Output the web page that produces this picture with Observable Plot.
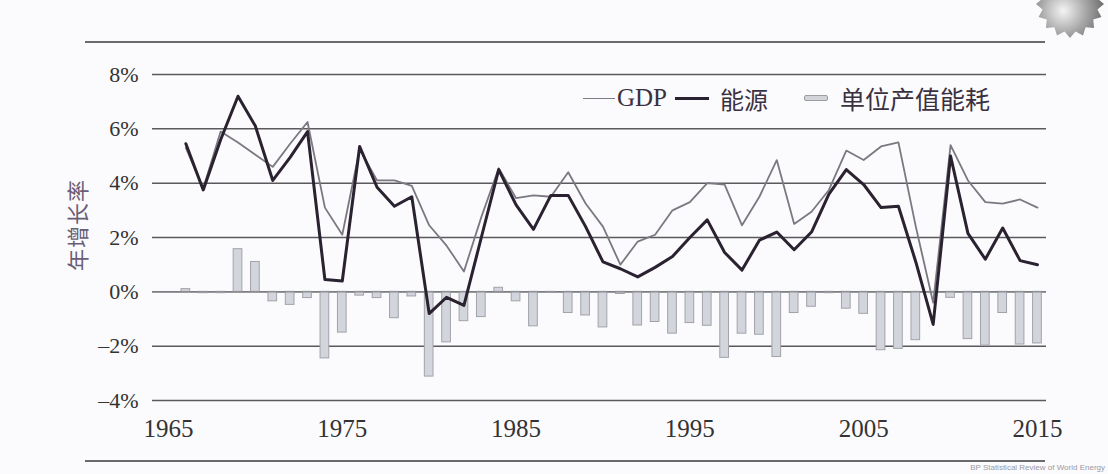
<!DOCTYPE html>
<html>
<head>
<meta charset="utf-8">
<script src="https://cdn.jsdelivr.net/npm/d3@7"></script>
<script src="https://cdn.jsdelivr.net/npm/@observablehq/plot@0.6"></script>
<style>
  html, body { margin: 0; padding: 0; background: #fbfbfd; }
  #wrap { position: relative; width: 1108px; height: 474px; overflow: hidden; background: #fbfbfd; }
  #chart { position: absolute; left: 0; top: 0; }
  .frame { position: absolute; left: 85px; width: 960px; height: 0; border-top: 2px solid #6a6a6e; }
  #legend { position: absolute; top: 80px; left: 583px; height: 36px; display: flex; align-items: center; color: #3a3040; }
  #legend .sw { display: inline-block; }
  #ytitle { position: absolute; left: 30px; top: 209px; transform: rotate(-90deg); transform-origin: center; font-family: "Noto Sans CJK SC", sans-serif; font-size: 22px; color: #6a5d74; letter-spacing: 1px; }
  #source { position: absolute; right: 3px; top: 463px; font-family: "Liberation Sans", sans-serif; font-size: 8px; color: #9a9aa4; white-space: nowrap; }
  #gear { position: absolute; left: 1032px; top: -34px; }
</style>
</head>
<body>
<div id="wrap">
  <div id="chart"></div>
  <div class="frame" style="top:41px"></div>
  <div class="frame" style="top:460px"></div>
  <div id="legend">
    <span class="sw" style="width:32px;height:0;border-top:1.6px solid #7c7a82;"></span>
    <span style="font-family:'Liberation Serif',serif;font-size:25px;margin-left:2px;">GDP</span>
    <span class="sw" style="width:34px;height:0;border-top:3px solid #2a2230;margin-left:8px;"></span>
    <span style="font-family:'Noto Sans CJK SC',sans-serif;font-size:24px;margin-left:11px;">能源</span>
    <span class="sw" style="width:22px;height:4px;background:#d2d4da;border:1px solid #9c9ca4;border-radius:2px;margin-left:36px;"></span>
    <span style="font-family:'Noto Sans CJK SC',sans-serif;font-size:25px;margin-left:12px;">单位产值能耗</span>
  </div>
  <div id="ytitle">年增长率</div>
  <div id="source">BP Statistical Review of World Energy</div>
  <svg id="gear" width="76" height="76" viewBox="-38 -38 76 76">
    <defs>
      <radialGradient id="gg" cx="40%" cy="60%" r="60%">
        <stop offset="0%" stop-color="#f4f4f4"/>
        <stop offset="55%" stop-color="#a8a8a8"/>
        <stop offset="100%" stop-color="#6e6e6e"/>
      </radialGradient>
    </defs>
    <polygon id="gearpoly" fill="url(#gg)"></polygon>
  </svg>
</div>
<script>
// ---- data ----
const years = d3.range(1966, 2016);
const gdp = [5.3, 3.8, 5.9, 5.5, 5.05, 4.6, 5.45, 6.25, 3.1, 2.1,
             5.25, 4.1, 4.1, 3.9, 2.45, 1.7, 0.75, 2.75, 4.55, 3.45,
             3.55, 3.5, 4.4, 3.25, 2.4, 1.0, 1.85, 2.1, 3.0, 3.3,
             4.0, 3.95, 2.45, 3.5, 4.85, 2.5, 2.95, 3.75, 5.2, 4.85,
             5.35, 5.5, 2.4, -0.4, 5.4, 4.1, 3.3, 3.25, 3.4, 3.1];
const energy = [5.45, 3.75, 5.6, 7.2, 6.1, 4.1, 4.95, 5.9, 0.45, 0.4,
                5.35, 3.85, 3.15, 3.5, -0.8, -0.2, -0.5, 2.0, 4.5, 3.2,
                2.3, 3.55, 3.55, 2.4, 1.1, 0.85, 0.55, 0.9, 1.3, 2.0,
                2.65, 1.45, 0.8, 1.9, 2.2, 1.55, 2.2, 3.6, 4.5, 3.95,
                3.1, 3.15, 1.1, -1.2, 5.0, 2.15, 1.2, 2.35, 1.15, 1.0];
const intensity = [0.1, -0.05, -0.05, 1.57, 1.1, -0.35, -0.48, -0.23, -2.45, -1.5,
                   -0.14, -0.23, -0.97, -0.17, -3.12, -1.86, -1.08, -0.93, 0.15, -0.35,
                   -1.27, -0.03, -0.78, -0.87, -1.31, -0.08, -1.24, -1.11, -1.54, -1.15,
                   -1.25, -2.43, -1.54, -1.58, -2.4, -0.78, -0.55, -0.05, -0.62, -0.81,
                   -2.15, -2.1, -1.78, -0.05, -0.22, -1.74, -1.98, -0.78, -1.94, -1.9];
const yTicks = [-4, -2, 0, 2, 4, 6, 8];
const xTicks = [1965, 1975, 1985, 1995, 2005, 2015];

const rows = years.map((year, i) => ({year, gdp: gdp[i], energy: energy[i], intensity: intensity[i]}));

const serif = "'Liberation Serif', 'DejaVu Serif', serif";

const chart = Plot.plot({
  width: 1108,
  height: 474,
  marginLeft: 152,
  marginRight: 62,
  marginTop: 74,
  marginBottom: 74,
  style: {background: "transparent", color: "#333"},
  x: {type: "linear", domain: [1964.08, 2015.52]},
  y: {domain: [-4, 8]},
  marks: [
    Plot.ruleY(yTicks, {stroke: "#5a5a5e", strokeWidth: 1.5}),
    Plot.rectY(rows, {
      x1: d => d.year - 0.25, x2: d => d.year + 0.25,
      y1: 0, y2: "intensity",
      fill: "#d3d5dc", stroke: "#a2a2aa", strokeWidth: 1
    }),
    Plot.ruleY([0], {stroke: "#8a8a90", strokeWidth: 1.2}),
    Plot.lineY(rows, {x: "year", y: "gdp", stroke: "#7a7880", strokeWidth: 1.8}),
    Plot.lineY(rows, {x: "year", y: "energy", stroke: "#2a2230", strokeWidth: 3}),
    Plot.axisY({
      ticks: yTicks, tickSize: 0, tickPadding: 14, label: null,
      tickFormat: d => (d < 0 ? "\u2013" : "") + Math.abs(d) + "%",
      fontSize: 22, fontFamily: serif, fill: "#333"
    }),
    Plot.axisX({
      ticks: xTicks, tickSize: 0, tickPadding: 19, label: null,
      tickFormat: d => String(d),
      fontSize: 25, fontFamily: serif, fill: "#333"
    })
  ]
});
document.getElementById("chart").appendChild(chart);

// decorative gear
const pts = [];
const teeth = 16;
for (let k = 0; k < teeth * 2; k++) {
  const a = (k / (teeth * 2)) * Math.PI * 2;
  const r = k % 2 === 0 ? 34 : 28;
  pts.push([r * Math.cos(a), r * Math.sin(a)]);
}
document.getElementById("gearpoly").setAttribute("points", pts.map(p => p.join(",")).join(" "));
</script>
</body>
</html>
